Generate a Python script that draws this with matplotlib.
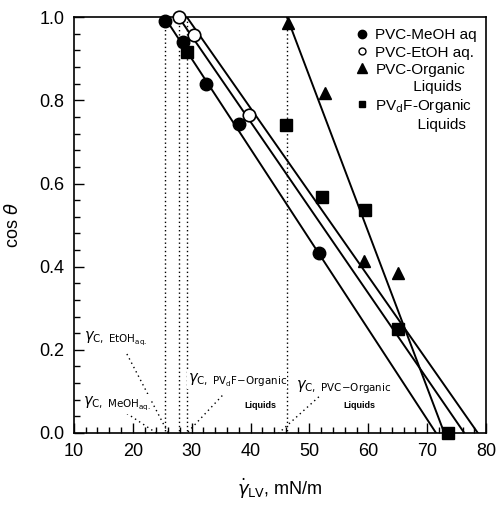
#!/usr/bin/env python3

# Import libraries
import matplotlib
matplotlib.use("Agg")
import matplotlib.pyplot as plt
from matplotlib.lines import Line2D
from matplotlib.ticker import MultipleLocator

plt.rcParams["font.family"] = ["Liberation Sans", "DejaVu Sans"]
plt.rcParams["mathtext.fontset"] = "dejavusans"

# Measured points (surface tension mN/m, cos theta)
meoh_x = [25.5, 28.6, 32.4, 38.0, 51.6]
meoh_y = [0.99, 0.94, 0.84, 0.743, 0.432]
etoh_x = [27.9, 30.4, 39.7]
etoh_y = [1.0, 0.957, 0.764]
pvc_org_x = [46.4, 52.6, 59.3, 65.1]
pvc_org_y = [0.985, 0.817, 0.413, 0.384]
pvdf_org_x = [29.2, 46.0, 52.2, 59.4, 65.0, 73.5]
pvdf_org_y = [0.917, 0.74, 0.567, 0.536, 0.249, 0.0]

# Zisman fit lines: critical tension (cos=1) and intercept at cos=0
series = ["MeOH", "EtOH", "PVdF", "PVC"]
gamma_c = [25.4, 27.8, 29.2, 46.2]
gamma_zero = [71.5, 76.3, 78.6, 72.9]

# Leader lines of the gamma_c labels: (x0, y0) -> (x1, 0)
leader_x0 = [19.0, 19.0, 35.2, 51.6]
leader_y0 = [0.19, 0.047, 0.09, 0.087]
leader_x1 = [26.0, 24.0, 29.2, 44.8]


def plot_zisman():
    fig = plt.figure(figsize=(4.96, 5.07), dpi=100)
    ax = fig.add_axes([0.149, 0.146, 0.831, 0.82])

    # Fit lines and dotted critical tension markers
    for gc, gz in zip(gamma_c, gamma_zero):
        ax.plot([gc, gz], [1.0, 0.0], color="black", lw=1.4, zorder=2)
        ax.plot([gc, gc], [1.0, 0.0], color="black", lw=1.0,
                linestyle=(0, (1, 2)), zorder=1)
    for x0, y0, x1 in zip(leader_x0, leader_y0, leader_x1):
        ax.plot([x0, x1], [y0, 0.0], color="black", lw=1.0,
                linestyle=(0, (1, 2.5)), zorder=1)

    # Data points
    ax.plot(meoh_x, meoh_y, "o", color="black", ms=9, zorder=4,
            clip_on=False)
    ax.plot(etoh_x, etoh_y, "o", mfc="white", mec="black", mew=1.2, ms=9,
            zorder=4, clip_on=False)
    ax.plot(pvc_org_x, pvc_org_y, "^", color="black", ms=9, zorder=4,
            clip_on=False)
    ax.plot(pvdf_org_x, pvdf_org_y, "s", color="black", ms=8, zorder=4,
            clip_on=False)

    # gamma_c labels
    box = dict(facecolor="white", edgecolor="none", pad=0.5)
    ax.text(11.7, 0.225, r"$\gamma_{\mathrm{C,\ EtOH_{aq.}}}$", fontsize=10.5,
            va="center", ha="left", bbox=box, zorder=3)
    ax.text(11.5, 0.07, r"$\gamma_{\mathrm{C,\ MeOH_{aq.}}}$", fontsize=10.5,
            va="center", ha="left", bbox=box, zorder=3)
    ax.text(29.3, 0.128, r"$\gamma_{\mathrm{C,\ PV_{d}F\!-\!Organic}}$",
            fontsize=10.5, va="center", ha="left", bbox=box, zorder=3)
    ax.text(39.0, 0.066, "Liquids", fontsize=6.5, fontweight="bold",
            va="center", ha="left", bbox=box, zorder=3)
    ax.text(47.8, 0.11, r"$\gamma_{\mathrm{C,\ PVC\!-\!Organic}}$",
            fontsize=10.5, va="center", ha="left", zorder=3)
    ax.text(55.7, 0.066, "Liquids", fontsize=6.5, fontweight="bold",
            va="center", ha="left", zorder=3)

    # Legend
    blank = Line2D([], [], linestyle="none")
    handles = [
        Line2D([], [], linestyle="none", marker="o", color="black", ms=6),
        Line2D([], [], linestyle="none", marker="o", mfc="white",
               mec="black", ms=5),
        Line2D([], [], linestyle="none", marker="^", color="black", ms=7),
        blank,
        Line2D([], [], linestyle="none", marker="s", color="black", ms=5),
        blank,
    ]
    labels = ["PVC-MeOH aq", "PVC-EtOH aq.", "PVC-Organic",
              "         Liquids", r"PV$_\mathrm{d}$F-Organic",
              "          Liquids"]
    ax.legend(handles, labels, loc="upper right", bbox_to_anchor=(1.0, 0.995),
              frameon=False, fontsize=11, handlelength=0.8,
              handletextpad=0.5, labelspacing=0.2, borderaxespad=0.2)

    # Axes
    ax.set_xlim(10, 80)
    ax.set_ylim(0, 1.0)
    ax.xaxis.set_major_locator(MultipleLocator(10))
    ax.xaxis.set_minor_locator(MultipleLocator(2))
    ax.yaxis.set_major_locator(MultipleLocator(0.2))
    ax.yaxis.set_minor_locator(MultipleLocator(0.04))
    ax.yaxis.set_major_formatter(plt.FormatStrFormatter("%.1f"))
    ax.tick_params(which="both", direction="in", top=False, right=False,
                   labelsize=13, width=1.0)
    ax.tick_params(which="major", length=7, pad=7)
    ax.tick_params(which="minor", length=4)
    for s in ax.spines.values():
        s.set_linewidth(1.2)

    ax.set_xlabel(r"$\dot{\gamma}_{\mathrm{LV}}$, mN/m", fontsize=13,
                  labelpad=12)
    ax.set_ylabel(r"cos $\theta$", fontsize=13, labelpad=12)

    fig.savefig("out.png", dpi=100)


plot_zisman()
